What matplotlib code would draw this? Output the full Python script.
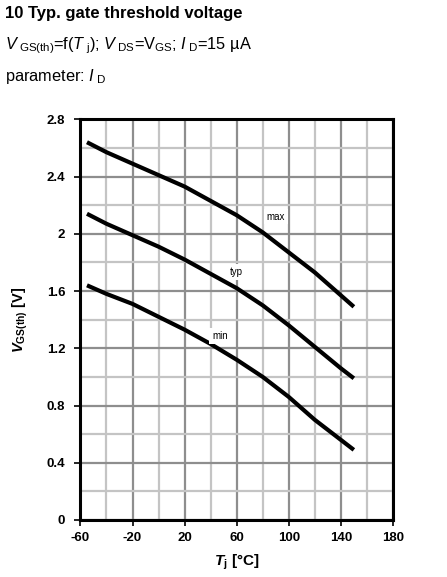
import numpy as np
import matplotlib as mpl
mpl.use('Agg')
import matplotlib.pyplot as plt
from matplotlib.ticker import MultipleLocator

plt.rcParams["font.family"] = "Liberation Sans"
plt.rcParams["axes.unicode_minus"] = False
plt.rcParams["mathtext.fontset"] = "custom"
plt.rcParams["mathtext.rm"] = "Liberation Sans"
plt.rcParams["mathtext.it"] = "Liberation Sans:italic"
plt.rcParams["mathtext.bf"] = "Liberation Sans:bold"
plt.rcParams["mathtext.bfit"] = "Liberation Sans:bold:italic"

# junction temperature [C]
temp = [-55, -40, -20, 0, 20, 40, 60, 80, 100, 120, 140, 150]
# gate threshold voltage [V]
v_max = [2.64, 2.57, 2.49, 2.41, 2.33, 2.23, 2.13, 2.01, 1.87, 1.73, 1.57, 1.49]
v_typ = [2.14, 2.07, 1.99, 1.91, 1.82, 1.72, 1.62, 1.50, 1.36, 1.21, 1.06, 0.99]
v_min = [1.64, 1.58, 1.51, 1.42, 1.33, 1.23, 1.12, 1.00, 0.86, 0.70, 0.56, 0.49]

curve_names = ["max", "typ", "min"]
label_pos = [(90, 2.12), (60, 1.735), (47, 1.285)]

xticks = [-60, -20, 20, 60, 100, 140, 180]
yticks = [0, 0.4, 0.8, 1.2, 1.6, 2.0, 2.4, 2.8]
ytick_labels = ["0", "0.4", "0.8", "1.2", "1.6", "2", "2.4", "2.8"]

fig = plt.figure(figsize=(4.47, 5.77), dpi=100)
ax = fig.add_axes([0.180, 0.0988, 0.699, 0.6944])

for v in (v_max, v_typ, v_min):
    ax.plot(temp, v, '-k', lw=3.0, solid_capstyle='butt', zorder=3)

for name, (tx, vy) in zip(curve_names, label_pos):
    ax.text(tx, vy, name, fontsize=7, ha='center', va='center', zorder=4,
            bbox=dict(facecolor='white', edgecolor='none', pad=2))

ax.set_xlim(-60, 180)
ax.set_ylim(0, 2.8)
ax.set_xticks(xticks)
ax.set_yticks(yticks)
ax.set_yticklabels(ytick_labels)
ax.xaxis.set_minor_locator(MultipleLocator(20))
ax.yaxis.set_minor_locator(MultipleLocator(0.2))
ax.grid(which='minor', color='#c4c4c4', lw=1.6, zorder=1)
ax.grid(which='major', color='#8e8e8e', lw=1.6, zorder=2)
ax.set_axisbelow(True)

ax.tick_params(which='major', direction='out', length=4, width=1.2,
               labelsize=9.5)
ax.tick_params(axis='y', pad=7)
ax.tick_params(axis='x', pad=5)
ax.tick_params(which='minor', length=0)
for lab in ax.get_xticklabels() + ax.get_yticklabels():
    lab.set_fontweight('bold')
for sp in ax.spines.values():
    sp.set_linewidth(2.2)
    sp.set_zorder(5)

ax.set_ylabel(r'$\mathbfit{V}_{\mathbf{GS(th)}}$ [V]', fontsize=10.5,
              fontweight='bold', labelpad=12)
ax.set_xlabel(r'$\mathbfit{T}_{\mathbf{j}}$ [°C]', fontsize=11,
              fontweight='bold', labelpad=6)

fig.text(0.011, 0.976, "10 Typ. gate threshold voltage", fontsize=12,
         fontweight='bold', va='center')
fig.text(0.011, 0.921,
         r'$V_{\ \mathrm{GS(th)}}$=f($T_{\ \mathrm{j}}$); $V_{\ \mathrm{DS}}$=V$_{\mathrm{GS}}$; $I_{\ \mathrm{D}}$=15 µA',
         fontsize=11.8, va='center')
fig.text(0.011, 0.867, r'parameter: $I_{\ \mathrm{D}}$', fontsize=11.8, va='center')

fig.savefig("out.png", dpi=100, facecolor='w')
